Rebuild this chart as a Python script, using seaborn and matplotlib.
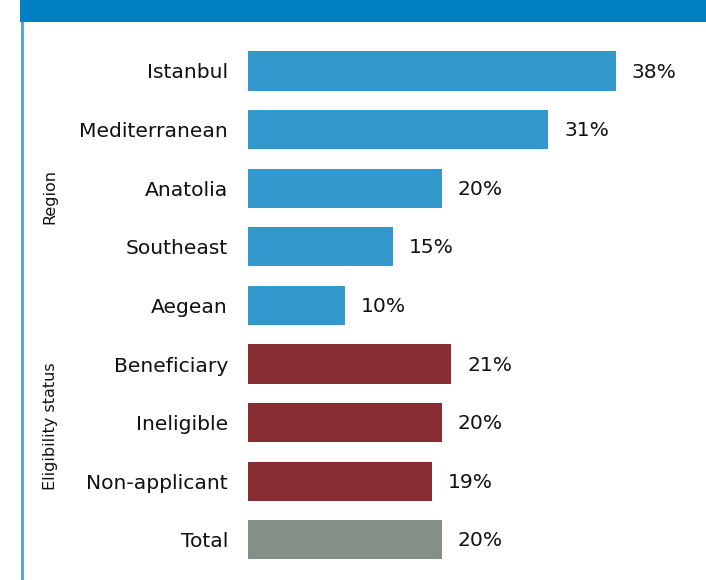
import matplotlib
matplotlib.use("Agg")
import matplotlib.pyplot as plt
from matplotlib.patches import Rectangle
from matplotlib.lines import Line2D
import pandas as pd
import seaborn as sns

categories = ["Istanbul", "Mediterranean", "Anatolia", "Southeast", "Aegean",
              "Beneficiary", "Ineligible", "Non-applicant", "Total"]
shares = [38, 31, 20, 15, 10, 21, 20, 19, 20]
groups = ["Region"] * 5 + ["Eligibility status"] * 3 + ["Total"]
group_colors = {"Region": "#3399CC", "Eligibility status": "#882E33", "Total": "#849085"}

df = pd.DataFrame({"category": categories, "share": shares, "group": groups})

sns.set_theme(style="white")
plt.rcParams["font.family"] = ["DejaVu Sans"]

W, H = 706, 580
fig = plt.figure(figsize=(W / 100, H / 100), dpi=100)

# axes spans from the bar origin to the right edge, under the header band
ax = fig.add_axes([248 / W, 0, (W - 248) / W, 1 - 22 / H])
sns.barplot(data=df, y="category", x="share", hue="group", palette=group_colors,
            dodge=False, width=0.67, orient="h", legend=False, ax=ax,
            saturation=1, linewidth=0)

px_per_unit = 9.68
ax.set_xlim(0, (W - 248) / px_per_unit)
step = 58.6
ax.set_ylim((580 - 71) / step, (22 - 71) / step)

for i, v in enumerate(shares):
    ax.text(v + 16 / px_per_unit, i + 0.02, f"{v}%", va="center", ha="left",
            fontsize=14.6, color="#111111")

ax.set_xlabel("")
ax.set_ylabel("")
ax.set_xticks([])
ax.tick_params(axis="y", length=0, pad=14.4, labelsize=14.6, labelcolor="#111111")
for s in ax.spines.values():
    s.set_visible(False)

# group labels on the left
fig.text(50 / W, 1 - 196 / H, "Region", rotation=90, ha="center", va="center",
         fontsize=11.5, color="#111111")
fig.text(50 / W, 1 - 426 / H, "Eligibility status", rotation=90, ha="center",
         va="center", fontsize=11.5, color="#111111")

# header band and left rule
fig.patches.append(Rectangle((20 / W, 1 - 22 / H), 1 - 20 / W, 22 / H,
                             transform=fig.transFigure, facecolor="#0080C2",
                             edgecolor="none", zorder=5))
fig.lines.append(Line2D([21.5 / W, 21.5 / W], [0, 1 - 22 / H],
                        transform=fig.transFigure, color="#4AA3D8", lw=2))

fig.savefig("out.png", dpi=100)
